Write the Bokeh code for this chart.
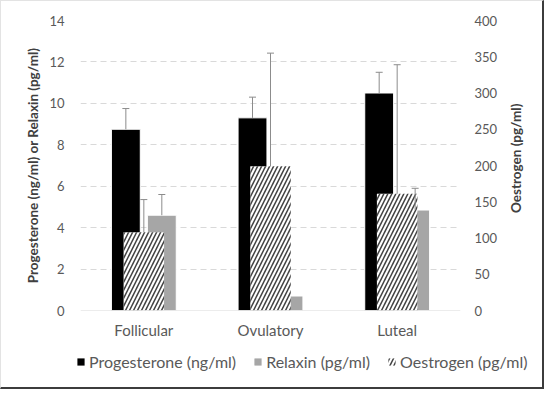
import math
from bokeh.plotting import figure
from bokeh.layouts import column, row
from bokeh.models import (FactorRange, Range1d, LinearAxis, FixedTicker, Span, Label,
                          ColumnDataSource, Legend, LegendItem)
from bokeh.transform import dodge
from bokeh.embed import file_html
from bokeh.resources import INLINE

phases = ["Follicular", "Ovulatory", "Luteal"]
progesterone = [8.75, 9.3, 10.5]
progesterone_err = [1.0, 1.0, 1.0]
relaxin = [4.6, 0.7, 4.85]
relaxin_err = [1.0, 0.0, 1.05]
oestrogen = [108, 199, 161]
oestrogen_err = [45, 156, 178]

left_ticks = [0, 2, 4, 6, 8, 10, 12, 14]
right_ticks = [0, 50, 100, 150, 200, 250, 300, 350, 400]
series_names = ["Progesterone (ng/ml)", "Relaxin (pg/ml)", "Oestrogen (pg/ml)"]

FONT = "Lato"
TXT = "#595959"
TITLE = "#404040"
ERR = "#8c8c8c"
BLACK = "black"
GREY = "#a6a6a6"
HATCH = dict(fill_color="white", line_color=None, hatch_pattern="right_diagonal_line",
             hatch_color="#404040", hatch_weight=1.5, hatch_scale=8)

src = ColumnDataSource(dict(
    phase=phases,
    prog=progesterone, prog_top=[v + e for v, e in zip(progesterone, progesterone_err)],
    rel=relaxin, oe=oestrogen,
    oe_top=[v + e for v, e in zip(oestrogen, oestrogen_err)],
))
rel_idx = [i for i, e in enumerate(relaxin_err) if e > 0]
rel_src = ColumnDataSource(dict(
    phase=[phases[i] for i in rel_idx],
    rel=[relaxin[i] for i in rel_idx],
    rel_top=[relaxin[i] + relaxin_err[i] for i in rel_idx],
))

# ---------------- main plot ----------------
p = figure(frame_width=380, frame_height=290, x_range=FactorRange(*phases, range_padding=0),
           y_range=Range1d(0, 14), output_backend="svg", toolbar_location=None,
           min_border_left=79, min_border_right=46, min_border_top=19, min_border_bottom=34)
p.extra_y_ranges = {"oe": Range1d(0, 400)}
p.outline_line_color = None

OFF = 0.142
bw = 0.228
p.vbar(x=dodge("phase", -OFF, range=p.x_range), top="prog", width=bw, source=src,
       fill_color=BLACK, line_color="white", line_width=1)
p.vbar(x=dodge("phase", OFF, range=p.x_range), top="rel", width=bw, source=src,
       fill_color=GREY, line_color="white", line_width=1)
p.vbar(x="phase", top="oe", width=0.32, source=src, y_range_name="oe", **HATCH)

# error bars (upper only)
p.segment(x0=dodge("phase", -OFF, range=p.x_range), x1=dodge("phase", -OFF, range=p.x_range),
          y0="prog", y1="prog_top", source=src, line_color=ERR, line_width=1)
p.scatter(x=dodge("phase", -OFF, range=p.x_range), y="prog_top", source=src, marker="dash",
          size=7, line_color=ERR, line_width=1)
p.segment(x0=dodge("phase", OFF, range=p.x_range), x1=dodge("phase", OFF, range=p.x_range),
          y0="rel", y1="rel_top", source=rel_src, line_color=ERR, line_width=1)
p.scatter(x=dodge("phase", OFF, range=p.x_range), y="rel_top", source=rel_src, marker="dash",
          size=7, line_color=ERR, line_width=1)
p.segment(x0="phase", x1="phase", y0="oe", y1="oe_top", source=src, y_range_name="oe",
          line_color=ERR, line_width=1)
p.scatter(x="phase", y="oe_top", source=src, y_range_name="oe", marker="dash",
          size=7, line_color=ERR, line_width=1)

# grid
p.xgrid.grid_line_color = None
p.ygrid.ticker = FixedTicker(ticks=left_ticks[1:])
p.ygrid.grid_line_color = "#d9d9d9"
p.ygrid.grid_line_dash = "6 4"
p.add_layout(Span(location=0, dimension="width", line_color="#d9d9d9", line_width=1), "center")

rax = LinearAxis(y_range_name="oe", ticker=FixedTicker(ticks=right_ticks))
p.add_layout(rax, "right")

for ax in [p.yaxis[0], p.xaxis[0], rax]:
    ax.axis_line_color = None
    ax.major_tick_line_color = None
    ax.minor_tick_line_color = None
    ax.major_tick_out = 0
    ax.major_tick_in = 0
    ax.minor_tick_out = 0
    ax.major_label_text_font = FONT
    ax.major_label_text_color = TXT
    ax.major_label_text_font_size = "13px"
p.xaxis[0].major_label_text_font_size = "15px"
p.xaxis[0].major_label_standoff = 10
p.yaxis[0].ticker = FixedTicker(ticks=left_ticks)
p.yaxis[0].major_label_standoff = 16
p.yaxis[0].axis_label = "Progesterone (ng/ml) or Relaxin (pg/ml)"
p.yaxis[0].axis_label_text_font = FONT
p.yaxis[0].axis_label_text_font_style = "bold"
p.yaxis[0].axis_label_text_font_size = "13.5px"
p.yaxis[0].axis_label_text_color = TITLE
p.yaxis[0].axis_label_standoff = 5
rax.major_label_standoff = 14

# ---------------- right title strip ----------------
p3 = figure(width=36, height=343, x_range=Range1d(0, 36), y_range=Range1d(0, 343),
            output_backend="svg", toolbar_location=None, min_border=0)
p3.axis.visible = False
p3.grid.visible = False
p3.outline_line_color = None
p3.add_layout(Label(x=9, y=180, text=series_names[2], angle=math.pi / 2,
                    text_align="center", text_baseline="middle", text_font=FONT,
                    text_font_style="bold", text_font_size="13.5px", text_color=TITLE))

# ---------------- legend strip ----------------
p2 = figure(width=541, height=43, x_range=Range1d(0, 1), y_range=Range1d(0, 1),
            output_backend="svg", toolbar_location=None, min_border=0)
p2.axis.visible = False
p2.grid.visible = False
p2.outline_line_color = None
# legend proxies placed outside the visible range
g1 = p2.vbar(x=[5], top=[1], width=0.1, fill_color=BLACK, line_color=None)
g2 = p2.vbar(x=[5], top=[1], width=0.1, fill_color=GREY, line_color=None)
g3 = p2.vbar(x=[5], top=[1], width=0.1, **HATCH)
legend = Legend(items=[LegendItem(label=series_names[0], renderers=[g1]),
                       LegendItem(label=series_names[1], renderers=[g2]),
                       LegendItem(label=series_names[2], renderers=[g3])],
                orientation="horizontal", location=(75, 16))
legend.border_line_color = None
legend.background_fill_alpha = 0
legend.label_text_font = FONT
legend.label_text_font_size = "16px"
legend.label_text_color = TXT
legend.glyph_width = 9
legend.glyph_height = 9
legend.label_standoff = 4
legend.spacing = 17
legend.padding = 0
legend.margin = 0
p2.add_layout(legend, "center")

layout = column(row(p, p3), p2)
layout.styles = {"border-top": "1px solid #e3e3e3", "border-left": "1px solid #e3e3e3",
                 "border-right": "2px solid #3c3c3c", "border-bottom": "2px solid #3c3c3c"}

open("out.html", "w").write(file_html(layout, INLINE))
